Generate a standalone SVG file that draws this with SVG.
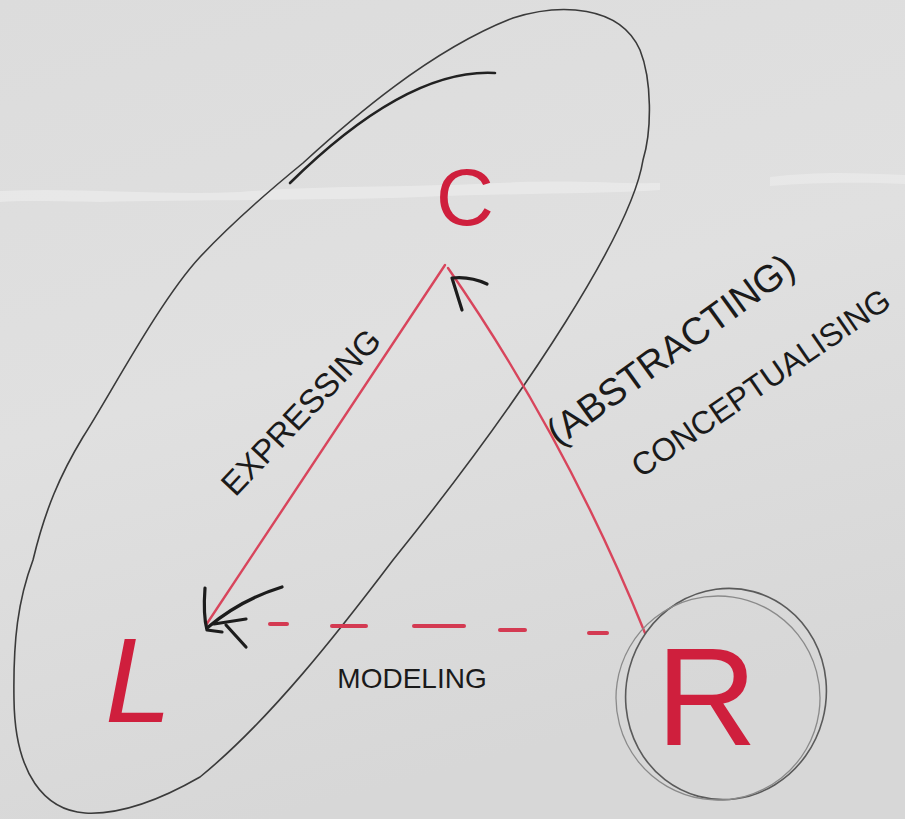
<svg xmlns="http://www.w3.org/2000/svg" width="905" height="819" viewBox="0 0 905 819">
<defs>
<linearGradient id="board" x1="0" y1="0" x2="0.3" y2="1">
<stop offset="0" stop-color="#dcdcdc"/>
<stop offset="0.5" stop-color="#e0e0e0"/>
<stop offset="1" stop-color="#d7d7d7"/>
</linearGradient>
<style>
.outline{fill:none;stroke:#3a3a3a;stroke-width:1.6}
.ring{fill:none;stroke:#5a5a5a;stroke-width:1.6}
.ring2{fill:none;stroke:#8a8a8a;stroke-width:1.3}
.edge{fill:none;stroke:#d8455c;stroke-width:2.4;stroke-linecap:round}
.dash{fill:none;stroke:#d43a52;stroke-width:4;stroke-linecap:round}
.head{fill:none;stroke:#1c1c1c;stroke-width:3.2;stroke-linecap:round;stroke-linejoin:round}
.node{font-family:"Liberation Sans",Arial,sans-serif;fill:#cf1f3d}
.label{font-family:"Liberation Sans",Arial,sans-serif;fill:#1a1a1a}
</style>
</defs>
<rect width="905" height="819" fill="url(#board)"/>
<path d="M0,191 C80,187 160,196 240,192 C320,185 420,188 520,182 C580,180 620,184 660,183 L660,190 C600,194 520,193 420,197 C320,201 200,199 100,202 C60,202 30,200 0,202 Z" fill="#ffffff" opacity="0.3"/>
<path d="M770,177 C820,171 860,173 905,175 L905,184 C860,182 820,182 770,186 Z" fill="#ffffff" opacity="0.25"/>

<g id="region-LC">
<path class="outline" d="M513,18 C560,3 620,5 640,50 C652,80 652,130 643,160 C632,230 530,390 393,560 C340,630 270,720 200,777 C160,800 120,815 85,813 C45,810 15,775 14,700 C13,640 18,600 33,560 C45,510 60,475 83,437 C110,395 160,300 200,257 C230,225 270,190 303,163 C350,120 430,50 513,18 Z"/>
<path d="M290,183 Q407,68 495,73" fill="none" stroke="#222" stroke-width="2.6" stroke-linecap="round"/>
</g>

<g id="connectors">
<path class="edge" d="M445,265 L206,625"/>
<path class="edge" d="M448,268 Q566,438 645,633"/>
<path class="dash" d="M270,624 L287,624"/>
<path class="dash" d="M332,626 L366,626"/>
<path class="dash" d="M414,626 L464,626"/>
<path class="dash" d="M500,630 L525,630"/>
<path class="dash" d="M589,633 L607,633"/>
<path class="head" d="M462,310 L452,278 Q470,276 487,284"/>
<path class="head" d="M205,588 Q203,615 207,630 L222,632"/>
<path class="head" d="M207,628 Q240,600 282,587"/>
<path class="head" d="M214,624 L246,619"/>
<path class="head" d="M226,625 L246,647"/>
<text class="label" font-size="33" text-anchor="middle" transform="translate(309,420) rotate(-46.5)">EXPRESSING</text>
<text class="label" font-size="38" text-anchor="middle" transform="translate(678,360) rotate(-36)">(ABSTRACTING)</text>
<text class="label" font-size="32" text-anchor="middle" transform="translate(767,392) rotate(-34.5)">CONCEPTUALISING</text>
<text class="label" font-size="28" text-anchor="middle" x="412" y="688">MODELING</text>
</g>

<g id="node-C">
<text class="node" font-size="80" x="436" y="225">C</text>
</g>
<g id="node-L">
<text class="node" font-size="120" font-style="italic" x="105" y="722">L</text>
</g>
<g id="node-R">
<ellipse class="ring" cx="726" cy="694" rx="100" ry="106" transform="rotate(15 726 694)"/>
<ellipse class="ring2" cx="718" cy="698" rx="102" ry="102" transform="rotate(30 718 698)"/>
<text class="node" font-size="140" x="656" y="745">R</text>
</g>
</svg>
